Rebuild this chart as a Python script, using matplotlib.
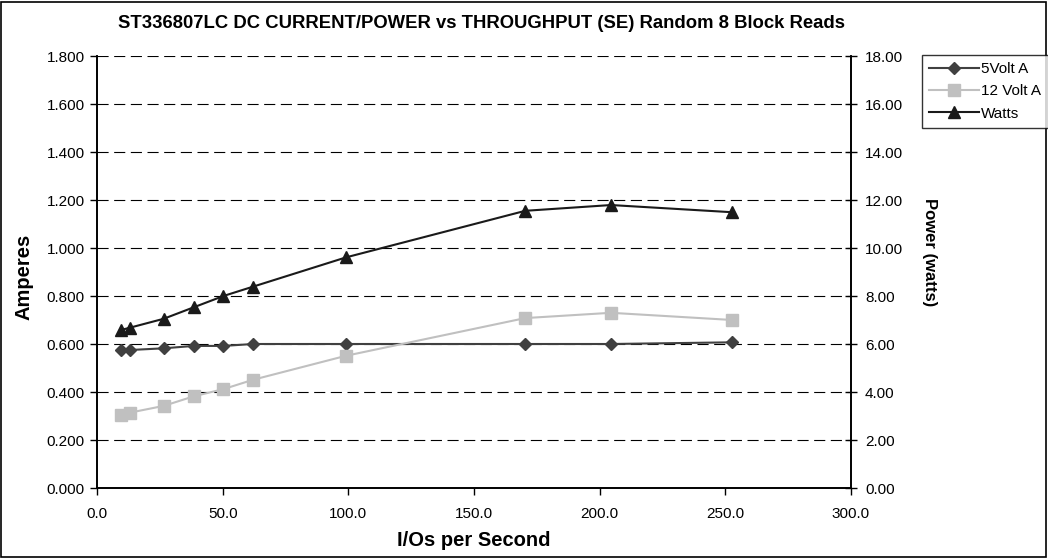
import matplotlib
matplotlib.use("Agg")
from matplotlib import pyplot as plt
from matplotlib.patches import Rectangle

# values
ios = [9.4, 13.1, 26.5, 38.5, 50.3, 62.1, 99.1, 170.4, 204.5, 252.8]
volt5_amps = [0.575, 0.575, 0.582, 0.592, 0.592, 0.600, 0.600, 0.600, 0.600, 0.607]
volt12_amps = [0.304, 0.314, 0.342, 0.382, 0.412, 0.451, 0.551, 0.708, 0.730, 0.700]
watts = [6.58, 6.68, 7.05, 7.53, 8.00, 8.39, 9.61, 11.55, 11.79, 11.49]

amp_ticks = [0.0, 0.2, 0.4, 0.6, 0.8, 1.0, 1.2, 1.4, 1.6, 1.8]
watt_ticks = [0, 2, 4, 6, 8, 10, 12, 14, 16, 18]
x_ticks = [0, 50, 100, 150, 200, 250, 300]

plt.rcParams['font.family'] = ['Liberation Sans', 'DejaVu Sans']

W, H = 1048, 558
fig = plt.figure(figsize=(W / 100, H / 100), dpi=100)
ax = fig.add_axes([97 / W, 1 - 488 / H, (851 - 97) / W, (488 - 56) / H])
ax2 = ax.twinx()

ax.set_xlim(0, 300)
ax.set_ylim(0, 1.8)
ax2.set_ylim(0, 18)

for y in amp_ticks[1:]:
    ax.axhline(y, color='black', lw=0.8, ls=(0, (10, 5)), zorder=0)

l1, = ax.plot(ios, volt5_amps, color='#404040', lw=1.5, marker='D', markersize=6.5,
              label='5Volt A', zorder=3)
l2, = ax.plot(ios, volt12_amps, color='#c0c0c0', lw=1.5, marker='s', markersize=8,
              label='12 Volt A', zorder=3)
l3, = ax2.plot(ios, watts, color='#1a1a1a', lw=1.5, marker='^', markersize=8,
               label='Watts', zorder=3)

ax.set_xticks(x_ticks)
ax.set_xticklabels([f'{v:.1f}' for v in x_ticks], fontsize=11)
ax.set_yticks(amp_ticks)
ax.set_yticklabels([f'{v:.3f}' for v in amp_ticks], fontsize=11)
ax2.set_yticks(watt_ticks)
ax2.set_yticklabels([f'{v:.2f}' for v in watt_ticks], fontsize=11)

ax.tick_params(axis='x', direction='out', length=5, width=1, pad=9)
ax.tick_params(axis='y', direction='out', length=5, width=1, pad=4)
ax2.tick_params(axis='y', direction='inout', length=8, width=1, pad=6)

for a in (ax, ax2):
    a.spines['top'].set_visible(False)
    for s in ('left', 'right', 'bottom'):
        a.spines[s].set_linewidth(1.2)

fig.text(481 / W, 1 - 24 / H,
         'ST336807LC DC CURRENT/POWER vs THROUGHPUT (SE) Random 8 Block Reads',
         fontsize=13.3, fontweight='bold', ha='center', va='center')
fig.text(474 / W, 1 - 541 / H, 'I/Os per Second', fontsize=14.5, fontweight='bold',
         ha='center', va='center')
fig.text(24 / W, 1 - 277 / H, 'Amperes', fontsize=14.5, fontweight='bold',
         ha='center', va='center', rotation=90)
fig.text(929 / W, 1 - 252 / H, 'Power (watts)', fontsize=12, fontweight='bold',
         ha='center', va='center', rotation=270)

leg = fig.legend(handles=[l1, l2, l3], loc='upper left', bbox_to_anchor=(922 / W, 1 - 55 / H),
                 fontsize=11, frameon=True, fancybox=False, edgecolor='black',
                 handlelength=3.3, handletextpad=0.1, borderpad=0.45, labelspacing=0.55,
                 borderaxespad=0)
leg.get_frame().set_linewidth(1.0)

fig.patches.append(Rectangle((0.001, 0.002), 0.997, 0.995, transform=fig.transFigure,
                             fill=False, edgecolor='black', lw=1.2))

fig.savefig('out.png', dpi=100)
